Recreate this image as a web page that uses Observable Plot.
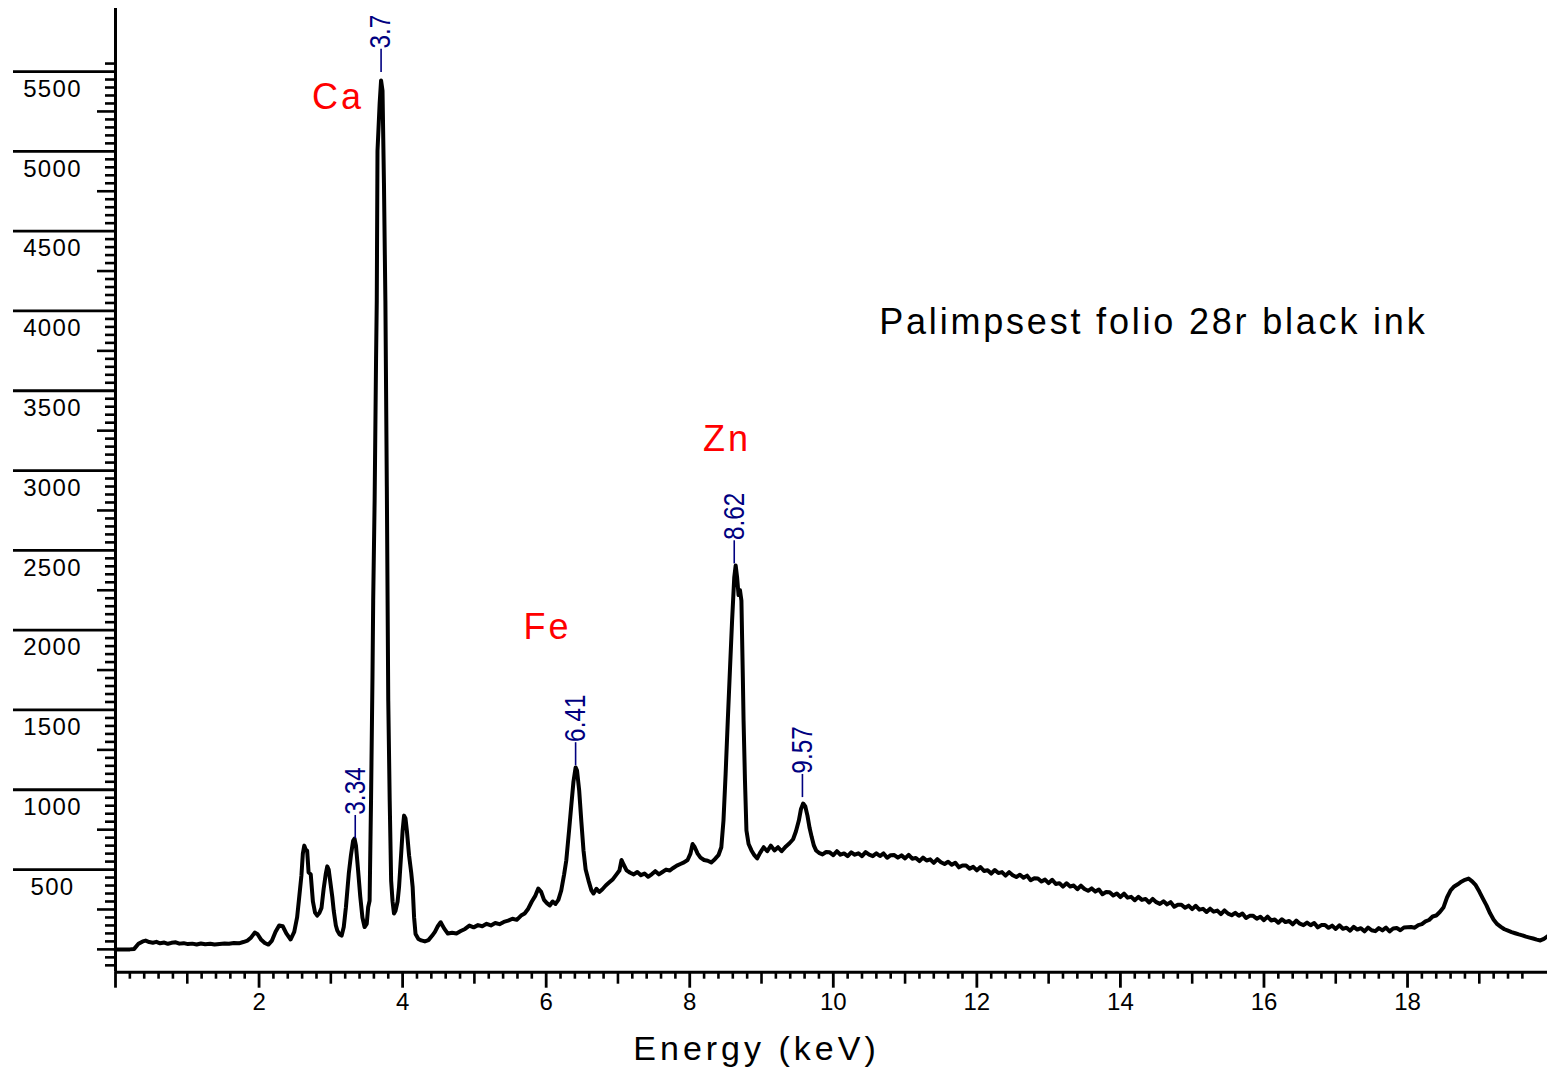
<!DOCTYPE html>
<html><head><meta charset="utf-8">
<script src="https://cdn.jsdelivr.net/npm/d3@7"></script>
<script src="https://cdn.jsdelivr.net/npm/@observablehq/plot@0.6"></script>
<style>
html,body{margin:0;padding:0;background:#fff;}
#chart svg{display:block;}
</style>
</head><body><div id="chart"></div>
<script>
// ---- data ----
const energy = [
0.00,0.10,0.20,0.26,0.32,0.38,0.42,0.47,0.52,0.57,0.62,0.68,0.73,0.78,0.84,0.89,0.95,1.01,1.07,1.13,1.19,1.25,1.32,1.38,1.45,1.52,1.58,1.65,1.72,1.78,1.84,1.89,1.94,1.98,2.03,2.08,2.13,2.18,2.23,2.28,2.33,2.38,2.44,2.49,2.53,2.56,2.59,2.61,2.63,2.65,2.67,2.69,2.72,2.75,2.78,2.81,2.84,2.87,2.90,2.93,2.95,2.97,2.99,3.02,3.04,3.07,3.09,3.12,3.15,3.18,3.21,3.25,3.28,3.31,3.33,3.35,3.38,3.41,3.44,3.47,3.50,3.52,3.54,3.56,3.58,3.59,3.61,3.63,3.64,3.65,3.68,3.70,3.72,3.74,3.76,3.78,3.80,3.82,3.84,3.86,3.88,3.90,3.93,3.95,3.98,4.00,4.02,4.04,4.06,4.09,4.12,4.14,4.16,4.18,4.22,4.26,4.31,4.36,4.41,4.45,4.49,4.53,4.58,4.63,4.69,4.75,4.81,4.87,4.93,4.99,5.05,5.11,5.17,5.23,5.29,5.35,5.41,5.47,5.53,5.59,5.65,5.70,5.75,5.80,5.85,5.89,5.93,5.97,6.01,6.05,6.09,6.13,6.17,6.21,6.25,6.28,6.32,6.35,6.38,6.41,6.43,6.46,6.49,6.52,6.55,6.59,6.63,6.66,6.70,6.74,6.78,6.83,6.88,6.93,6.98,7.02,7.05,7.08,7.12,7.17,7.22,7.27,7.32,7.37,7.42,7.47,7.52,7.57,7.62,7.67,7.72,7.77,7.82,7.87,7.92,7.97,8.01,8.04,8.07,8.11,8.15,8.20,8.25,8.30,8.35,8.40,8.44,8.47,8.50,8.53,8.56,8.59,8.62,8.64,8.66,8.68,8.70,8.72,8.74,8.75,8.77,8.79,8.82,8.86,8.90,8.94,8.98,9.03,9.08,9.13,9.18,9.23,9.28,9.34,9.39,9.44,9.48,9.52,9.55,9.58,9.61,9.64,9.67,9.70,9.73,9.76,9.80,9.85,9.90,
9.95,10.00,10.05,10.10,10.15,10.20,10.25,10.30,10.35,10.40,10.45,10.50,10.55,10.60,10.65,10.70,10.75,10.80,10.85,10.90,10.95,
11.00,11.05,11.10,11.15,11.20,11.25,11.30,11.35,11.40,11.45,11.50,11.55,11.60,11.65,11.70,11.75,11.80,11.85,11.90,11.95,
12.00,12.05,12.10,12.15,12.20,12.25,12.30,12.35,12.40,12.45,12.50,12.55,12.60,12.65,12.70,12.75,12.80,12.85,12.90,12.95,
13.00,13.05,13.10,13.15,13.20,13.25,13.30,13.35,13.40,13.45,13.50,13.55,13.60,13.65,13.70,13.75,13.80,13.85,13.90,13.95,
14.00,14.05,14.10,14.15,14.20,14.25,14.30,14.35,14.40,14.45,14.50,14.55,14.60,14.65,14.70,14.75,14.80,14.85,14.90,14.95,
15.00,15.05,15.10,15.15,15.20,15.25,15.30,15.35,15.40,15.45,15.50,15.55,15.60,15.65,15.70,15.75,15.80,15.85,15.90,15.95,
16.00,16.05,16.10,16.15,16.20,16.25,16.30,16.35,16.40,16.45,16.50,16.55,16.60,16.65,16.70,16.75,16.80,16.85,16.90,16.95,
17.00,17.05,17.10,17.15,17.20,17.25,17.30,17.35,17.40,17.45,17.50,17.55,17.60,17.65,17.70,17.75,17.80,17.85,17.90,17.95,
18.05,18.10,18.15,18.20,18.25,18.30,18.35,18.40,18.45,18.50,18.55,18.60,18.65,18.70,18.75,18.80,18.85,18.90,18.95,
19.00,19.05,19.10,19.15,19.20,19.25,19.30,19.35,19.40,19.45,19.50,19.55,19.60,19.65,19.70,19.75,19.80,19.85,19.90,19.95
];
const counts = [
0,0,0,3,35,50,55,46,42,47,38,43,35,41,44,36,39,33,36,31,37,32,35,30,34,37,35,40,38,46,55,75,105,95,60,40,30,55,110,150,145,100,62,110,200,330,462,600,650,625,619,483,470,300,230,212,228,260,380,475,520,500,431,330,243,150,118,95,86,140,264,475,590,680,694,650,494,330,200,140,160,264,305,932,1700,2185,2810,3700,4063,5003,5300,5444,5380,4800,4063,2900,1558,932,431,300,225,240,300,389,600,744,838,820,740,588,480,389,200,97,65,56,50,58,85,110,145,170,130,99,104,100,115,128,149,138,152,145,160,150,165,158,172,180,192,185,212,225,255,300,337,381,360,310,290,275,300,285,310,370,470,557,750,902,1050,1140,1120,995,800,620,500,431,370,350,380,360,375,400,420,440,470,494,560,530,495,480,470,485,465,475,455,470,490,470,485,500,494,510,525,535,545,560,600,660,640,600,575,560,555,545,565,590,640,807,1100,1433,1750,2060,2330,2405,2330,2220,2250,2185,1700,1433,1050,745,660,620,590,570,605,640,615,650,620,640,615,645,665,690,740,807,880,914,895,838,760,702,650,620,605,595,610,
608,590,615,593,601,584,608,593,602,584,609,593,584,602,585,601,574,590,591,575,589,
570,592,568,573,553,575,557,564,542,565,546,535,549,530,543,514,526,525,506,517,
495,516,491,496,475,497,478,484,462,484,464,453,468,449,462,433,445,444,425,437,
415,436,410,415,393,414,394,400,377,399,378,367,382,362,375,346,359,358,338,350,
328,349,324,329,308,329,310,316,294,316,296,285,301,282,296,267,280,280,261,274,
252,273,249,254,234,255,236,243,221,244,224,214,229,211,225,197,210,210,192,204,
183,205,181,187,167,189,171,178,157,180,161,152,168,151,165,138,152,153,135,149,
128,151,129,136,117,141,124,133,113,137,120,114,133,119,137,113,131,134,120,137,
140,136,152,158,175,184,206,212,234,262,325,370,394,408,424,436,444,426,402,
362,318,276,226,186,158,141,126,117,108,101,94,88,80,74,68,61,56,66,82
];
const xDomain = [0, 19.95];
const yDomain = [-143, 5895];
const yTickLabels = [500,1000,1500,2000,2500,3000,3500,4000,4500,5000,5500];
const xTickLabels = [2,4,6,8,10,12,14,16,18];
const peakLabels = ["3.34","3.7","6.41","8.62","9.57"];
const peakBase = [694, 5494, 1150, 2415, 951];
const elementNames = ["Ca","Fe","Zn"];
const elementEnergy = [3.10, 6.02, 8.52];
const elementCounts = [5340, 2019, 3197];
const sampleTitle = ["Palimpsest folio 28r black ink"];
const sampleTitleAt = [10.64, 3930];
const xTitle = ["Energy (keV)"];

// ---- tables built from the arrays ----
const spectrum = energy.map((e, i) => ({e, c: counts[i]}));
const peaks = peakLabels.map((l, i) => ({e: +l, label: l, base: peakBase[i]}));
const elements = elementNames.map((n, i) => ({name: n, e: elementEnergy[i], c: elementCounts[i]}));

const yMajor = yTickLabels;
const yMedium = d3.range(0, 5500, 250).filter(v => v % 500 !== 0 || v === 0);
const yMinor = d3.range(-100, 5551, 50).filter(v => v % 250 !== 0);
const xMajor = d3.range(0, 19, 2);
const xMedium = d3.range(1, 20, 2);
const xMinor = d3.range(0, 99).map(i => +(i * 0.2).toFixed(1)).filter(v => v % 1 !== 0 && v < 19.95);

const FONT = "Liberation Sans, Arial, Helvetica, sans-serif";
const noText = () => "";

const chart = Plot.plot({
  width: 1547,
  height: 1075,
  marginLeft: 115,
  marginRight: 0,
  marginTop: 8,
  marginBottom: 103.3,
  style: {fontFamily: FONT, background: "white", color: "black", overflow: "visible"},
  x: {domain: xDomain, axis: null},
  y: {domain: yDomain, axis: null},
  marks: [
    Plot.axisY({ticks: yMinor, tickSize: 10, tickFormat: noText, strokeWidth: 2.6, label: null}),
    Plot.axisY({ticks: yMedium, tickSize: 18, tickFormat: noText, strokeWidth: 2.6, label: null}),
    Plot.axisY({ticks: yMajor, tickSize: 102, tickFormat: noText, strokeWidth: 2.8, label: null}),
    Plot.axisX({ticks: xMinor, tickSize: 7, tickFormat: noText, strokeWidth: 2.6, label: null}),
    Plot.axisX({ticks: xMedium, tickSize: 12, tickFormat: noText, strokeWidth: 2.6, label: null}),
    Plot.axisX({ticks: xMajor, tickSize: 16, tickFormat: noText, strokeWidth: 2.8, label: null}),
    Plot.ruleX([xDomain[0]], {stroke: "black", strokeWidth: 3}),
    Plot.ruleY([yDomain[0]], {stroke: "black", strokeWidth: 3}),
    Plot.text(yTickLabels, {y: d => d, text: d => String(d), frameAnchor: "left", lineAnchor: "middle", dx: -63, dy: 17.5,
      textAnchor: "middle", fontSize: 24, fontFamily: FONT, fill: "black"}),
    Plot.text(xTickLabels, {x: d => d, text: d => String(d), frameAnchor: "bottom", lineAnchor: "middle", dy: 30.5,
      textAnchor: "middle", fontSize: 24, fontFamily: FONT, fill: "black"}),
    Plot.line(spectrum, {x: "e", y: "c", stroke: "black", strokeWidth: 4, strokeLinejoin: "round", strokeLinecap: "round"}),
    Plot.ruleX(peaks, {x: "e", y1: "base", y2: d => d.base + 145, stroke: "#000080", strokeWidth: 1.6}),
    Plot.text(peaks, {x: "e", y: d => d.base + 150, text: "label", rotate: -90, textAnchor: "start", lineAnchor: "middle",
      fill: "#000080", fontSize: 29, fontFamily: FONT}),
    Plot.text(elements, {x: "e", y: "c", text: "name", fill: "#ff0000", fontSize: 36, fontFamily: FONT,
      textAnchor: "middle", lineAnchor: "middle"}),
    Plot.text(sampleTitle, {x: () => sampleTitleAt[0], y: () => sampleTitleAt[1], text: d => d, textAnchor: "start",
      lineAnchor: "middle", fill: "black", fontSize: 36, fontFamily: FONT}),
    Plot.text(xTitle, {text: d => d, frameAnchor: "bottom", lineAnchor: "middle", dx: -75, dy: 77, textAnchor: "middle",
      fill: "black", fontSize: 34, fontFamily: FONT})
  ]
});

// letter spacing / condensed peak labels, matched by text content
const ySet = new Set(yTickLabels.map(String));
const peakSet = new Set(peakLabels);
const elemSet = new Set(elementNames);
d3.select(chart).selectAll("text").each(function () {
  const s = this.textContent;
  if (ySet.has(s)) this.style.letterSpacing = "1.3px";
  else if (elemSet.has(s)) this.style.letterSpacing = "3px";
  else if (s === sampleTitle[0]) this.style.letterSpacing = "2.8px";
  else if (s === xTitle[0]) this.style.letterSpacing = "4px";
  else if (peakSet.has(s)) {
    const t = this.getAttribute("transform") || "";
    if (t.includes("rotate")) this.setAttribute("transform", t + " scale(0.84,1)");
  }
});

document.getElementById("chart").appendChild(chart);
</script>
</body></html>
